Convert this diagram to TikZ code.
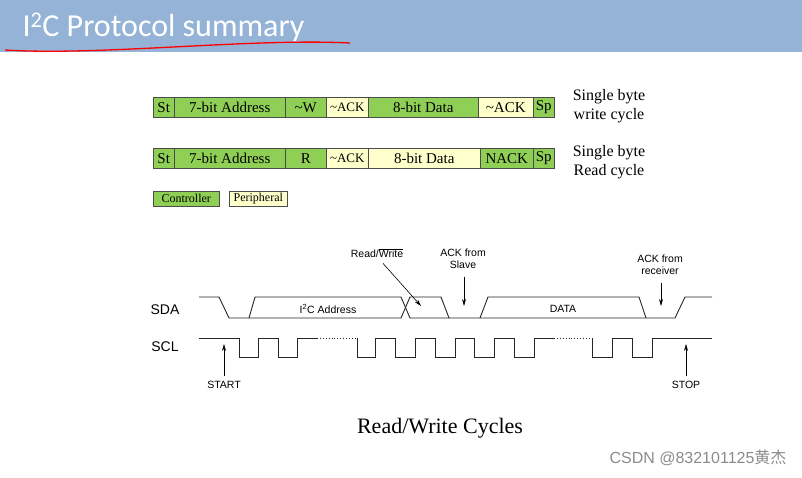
\documentclass[tikz,border=0pt]{standalone}
\usepackage{fontspec}
\setmainfont{Liberation Serif}
\newfontfamily\sansf{Liberation Sans}
\newfontfamily\calf{Carlito}
\newfontfamily\cjkf{Noto Sans CJK SC}
\usetikzlibrary{arrows.meta}
\definecolor{bar}{HTML}{95B3D7}
\definecolor{ctrl}{HTML}{8FCF55}
\definecolor{peri}{HTML}{FFFFCC}
\begin{document}
\begin{tikzpicture}[x=1pt,y=-1pt,
  cell/.style={draw=black!70,line width=0.5pt,inner sep=0pt,font=\fontsize{15}{15}\selectfont},
  g/.style={cell,fill=ctrl},
  p/.style={cell,fill=peri},
  wave/.style={line width=0.9pt,black!85},
  lab/.style={font=\sansf\fontsize{10.5}{12.5}\selectfont,align=center},
  arr/.style={-{Stealth[length=7pt,width=4pt]},line width=0.6pt}]
\useasboundingbox (0,0) rectangle (802,478);
\fill[white] (0,0) rectangle (802,478);
\fill[bar] (0,0) rectangle (802,52);
\node[anchor=west,text=white,font=\calf\fontsize{32}{32}\selectfont] (title) at (19,27) {I\textsuperscript{2}C Protocol summary};
\draw[red,line width=1.3pt] (5,50) .. controls (100,56) and (250,38) .. (350,43);
% row 1
\foreach \a/\b/\s/\t [count=\i] in {153/174/g/St,174/285/g/7-bit Address,285/326/g/\textasciitilde W,326/368/p/{\fontsize{13}{13}\selectfont\textasciitilde ACK},368/478/g/8-bit Data,478/533/p/\textasciitilde ACK,533/554/g/Sp}{
  \node[\s,minimum width={\b-\a},minimum height=20,anchor=north west] (r1c\i) at (\a,97) {\t};}
\foreach \a/\b/\s/\t [count=\i] in {153/174/g/St,174/285/g/7-bit Address,285/326/g/R,326/368/p/{\fontsize{13}{13}\selectfont\textasciitilde ACK},368/480/p/8-bit Data,480/533/g/NACK,533/554/g/Sp}{
  \node[\s,minimum width={\b-\a},minimum height=20,anchor=north west] (r2c\i) at (\a,148) {\t};}
\node[g,minimum width=66,minimum height=15,anchor=north west,font=\fontsize{12}{12}\selectfont] (lc) at (153,191) {Controller};
\node[p,minimum width=58,minimum height=15,anchor=north west,font=\fontsize{12}{12}\selectfont] (lp) at (229,191) {Peripheral};
\node[font=\fontsize{16}{19}\selectfont,align=center] (t1) at (609,106) {Single byte\\ write cycle};
\node[font=\fontsize{16}{19}\selectfont,align=center] (t2) at (609,162) {Single byte\\ Read cycle};
% waveforms
\node[font=\sansf\fontsize{14}{14}\selectfont] (sda) at (165,310) {SDA};
\node[font=\sansf\fontsize{14}{14}\selectfont] (scl) at (165,347) {SCL};
\def\H{297}\def\L{318}
\draw[wave] (199,\H) -- (219,\H) -- (229,\L) -- (249,\L) -- (401,\L) -- (410,\H) -- (441,\H) -- (449,\L) -- (480,\L) -- (675,\L) -- (685,\H) -- (712,\H);
\draw[wave] (249,\L) -- (255,\H) -- (401,\H) -- (410,\L) -- (449,\L);
\draw[wave] (480,\L) -- (488,\H) -- (639,\H) -- (646,\L);
\node[lab] (addr) at (328,309) {I\textsuperscript{2}C Address};
\node[lab] (data) at (563,309) {DATA};
\def\h{338}\def\l{357}
\draw[wave] (199,\h) -- (239,\h) -- (239,\l) -- (258,\l) -- (258,\h) -- (278,\h) -- (278,\l) -- (297,\l) -- (297,\h) -- (317,\h);
\draw[wave,dotted] (317,\h) -- (357,\h);
\draw[wave] (357,\h) -- (357,\l) -- (375,\l) -- (375,\h) -- (395,\h) -- (395,\l) -- (415,\l) -- (415,\h) -- (435,\h) -- (435,\l) -- (455,\l) -- (455,\h) -- (474,\h) -- (474,\l) -- (494,\l) -- (494,\h) -- (514,\h) -- (514,\l) -- (534,\l) -- (534,\h) -- (554,\h);
\draw[wave,dotted] (554,\h) -- (592,\h);
\draw[wave] (592,\h) -- (592,\l) -- (612,\l) -- (612,\h) -- (632,\h) -- (632,\l) -- (652,\l) -- (652,\h) -- (712,\h);
\node[lab] (rw) at (377,253) {Read/$\overline{\mbox{Write}}$};
\coordinate (rwt) at (421,306);
\draw[arr] (rw.south) ++(6,2) -- (rwt);
\node[lab] (acks) at (463,259) {ACK from\\Slave};
\coordinate (ackst) at (464,306);
\draw[arr] (acks.south) ++(1,4) -- (ackst);
\node[lab] (ackr) at (660,265) {ACK from\\receiver};
\coordinate (ackrt) at (661,306);
\draw[arr] (ackr.south) ++(1,4) -- (ackrt);
\node[lab] (start) at (224,385) {START};
\coordinate (startt) at (224,344);
\draw[arr] (start.north) ++(0,-2) -- (startt);
\node[lab] (stop) at (686,385) {STOP};
\coordinate (stopt) at (686,344);
\draw[arr] (stop.north) ++(0,-2) -- (stopt);
\node[font=\fontsize{22}{22}\selectfont] (cap) at (440,428) {Read/Write Cycles};
\node[anchor=east,text=black!45,font=\sansf\fontsize{16}{16}\selectfont] (wm) at (790,458) {CSDN @832101125{\cjkf 黄杰}};
\end{tikzpicture}
\end{document}
